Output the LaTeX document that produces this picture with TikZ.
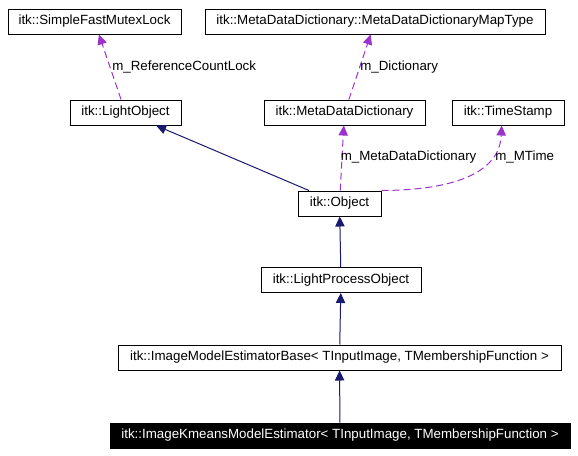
\documentclass[tikz,border=0pt]{standalone}
\usepackage{fontspec}
\setmainfont{Liberation Sans}
\usepackage{tikz}
\usetikzlibrary{arrows.meta}
\usepackage{xcolor}
\definecolor{inhcol}{HTML}{191970}
\definecolor{usecol}{HTML}{9A32CD}

\begin{document}
\begin{tikzpicture}[x=0.75pt,y=-0.75pt,>={Triangle[length=7.5pt,width=7pt]},font=\fontsize{10}{12}\selectfont]
\tikzstyle{cls}=[rectangle,draw,line width=0.75pt,fill=white,minimum height=18.75pt,inner sep=1pt]
\tikzstyle{inh}=[->,draw=inhcol,line width=0.75pt]
\tikzstyle{use}=[->,draw=usecol,line width=0.75pt,dash pattern=on 5.25pt off 3pt]
\tikzstyle{lbl}=[anchor=west,inner sep=0pt]
  \useasboundingbox(0,0)rectangle(578,455);
  \node(mutex)at(94.5,21.5)[cls,minimum width=129.75pt]{itk::SimpleFastMutexLock};
  \node(maptype)at(375,21.5)[cls,minimum width=255pt]{itk::MetaDataDictionary::MetaDataDictionaryMapType};
  \node(lobj)at(125.5,112.5)[cls,minimum width=83.25pt]{itk::LightObject};
  \node(mdd)at(344.5,112.5)[cls,minimum width=120.75pt]{itk::MetaDataDictionary};
  \node(tstamp)at(508,112.5)[cls,minimum width=84pt]{itk::TimeStamp};
  \node(obj)at(339.5,203.5)[cls,minimum width=62.25pt]{itk::Object};
  \node(lpo)at(341,280)[cls,minimum width=120pt]{itk::LightProcessObject};
  \node(base)at(339.5,357.5)[cls,minimum width=332.25pt]{itk::ImageModelEstimatorBase< TInputImage, TMembershipFunction >};
  \node(kmeans)at(340,435.5)[cls,fill=black,text=white,minimum width=345pt]{itk::ImageKmeansModelEstimator< TInputImage, TMembershipFunction >};
  % inheritance
  \draw[inh](obj)--(lobj);
  \draw[inh](lpo)--(obj);
  \draw[inh](base)--(lpo);
  \draw[inh](kmeans)--(base);
  % members
  \draw[use](lobj)--(mutex);
  \draw[use](mdd)--(maptype);
  \draw[use](obj)--(mdd);
  \draw[use](obj.north east)..controls(470,190)and(500,165)..(tstamp.244);
  \node(lmutex)at(112,67)[lbl]{m\_ReferenceCountLock};
  \node(lmap)at(360,67)[lbl]{m\_Dictionary};
  \node(lmdd)at(340.5,157)[lbl]{m\_MetaDataDictionary};
  \node(ltime)at(495,157)[lbl]{m\_MTime};
\end{tikzpicture}
\end{document}
